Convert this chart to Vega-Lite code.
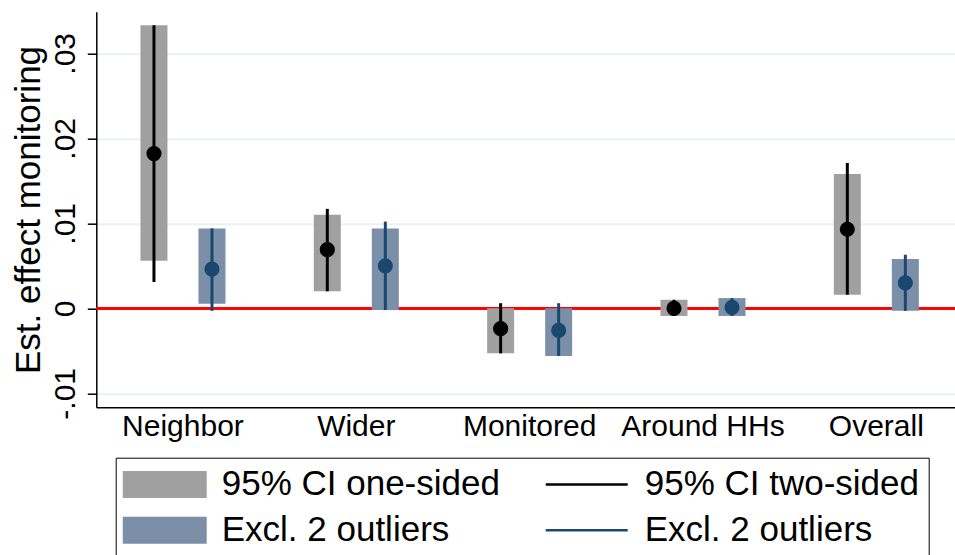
{
  "$schema": "https://vega.github.io/schema/vega-lite/v6.json",
  "width": 858.7,
  "height": 395.6,
  "autosize": {"type": "none"},
  "padding": {"left": 96.3, "top": 11.7, "right": 0, "bottom": 147.7},
  "background": "white",
  "config": {
    "view": {"stroke": null},
    "font": "Liberation Sans",
    "axis": {"labelFont": "Liberation Sans", "titleFont": "Liberation Sans", "labelColor": "black", "titleColor": "black", "titleFontWeight": "normal"}
  },
  "data": {
    "values": [
      {"cat": "Neighbor", "grp": "a", "est": 0.0182, "lo1": 0.0056, "hi1": 0.0333, "lo2": 0.0031, "hi2": 0.0333, "barKey": "a1", "lineKey": "a2"},
      {"cat": "Neighbor", "grp": "b", "est": 0.0046, "lo1": 0.00054, "hi1": 0.0094, "lo2": -0.0003, "hi2": 0.0094, "barKey": "b1", "lineKey": "b2"},
      {"cat": "Wider", "grp": "a", "est": 0.0069, "lo1": 0.0020, "hi1": 0.0110, "lo2": 0.0020, "hi2": 0.0117, "barKey": "a1", "lineKey": "a2"},
      {"cat": "Wider", "grp": "b", "est": 0.0050, "lo1": -0.0002, "hi1": 0.0094, "lo2": -0.0002, "hi2": 0.0102, "barKey": "b1", "lineKey": "b2"},
      {"cat": "Monitored", "grp": "a", "est": -0.0024, "lo1": -0.0053, "hi1": 0.0000, "lo2": -0.0053, "hi2": 0.0006, "barKey": "a1", "lineKey": "a2"},
      {"cat": "Monitored", "grp": "b", "est": -0.0026, "lo1": -0.0056, "hi1": 0.0000, "lo2": -0.0056, "hi2": 0.0006, "barKey": "b1", "lineKey": "b2"},
      {"cat": "Around HHs", "grp": "a", "est": 0.0000, "lo1": -0.0009, "hi1": 0.0010, "lo2": -0.0009, "hi2": 0.0010, "barKey": "a1", "lineKey": "a2"},
      {"cat": "Around HHs", "grp": "b", "est": 0.0001, "lo1": -0.0009, "hi1": 0.0012, "lo2": -0.0009, "hi2": 0.0012, "barKey": "b1", "lineKey": "b2"},
      {"cat": "Overall", "grp": "a", "est": 0.0093, "lo1": 0.0016, "hi1": 0.0158, "lo2": 0.0016, "hi2": 0.0171, "barKey": "a1", "lineKey": "a2"},
      {"cat": "Overall", "grp": "b", "est": 0.0030, "lo1": -0.0003, "hi1": 0.0058, "lo2": -0.0003, "hi2": 0.0063, "barKey": "b1", "lineKey": "b2"}
    ]
  },
  "encoding": {
    "x": {
      "field": "cat", "type": "nominal", "sort": null,
      "scale": {"range": [0, 866.7], "paddingInner": 0, "paddingOuter": 0},
      "axis": {"title": null, "ticks": false, "grid": false, "domain": true, "domainColor": "black", "domainWidth": 1.5, "labelAngle": 0, "labelFontSize": 30, "labelPadding": 4}
    },
    "xOffset": {"field": "grp", "type": "nominal", "scale": {"paddingInner": 0, "paddingOuter": 0.494}}
  },
  "layer": [
    {
      "mark": {"type": "rule", "color": "#ff0000", "strokeWidth": 2},
      "encoding": {"y": {"datum": 0, "type": "quantitative"}, "x": null, "xOffset": null}
    },
    {
      "mark": {"type": "bar", "width": 27, "opacity": 1},
      "encoding": {
        "y": {
          "field": "lo1", "type": "quantitative",
          "scale": {"domain": [-0.011647, 0.034894], "nice": false, "zero": false},
          "axis": {
            "title": "Est. effect monitoring", "titleFontSize": 35, "titlePadding": 4,
            "values": [-0.01, 0, 0.01, 0.02, 0.03],
            "labelExpr": "datum.value == 0 ? '0' : (datum.value < 0 ? '-' : '') + replace(format(abs(datum.value), '.2f'), '0.', '.')",
            "labelAngle": 270, "labelAlign": "center", "labelBaseline": "alphabetic", "labelFontSize": 30, "labelPadding": 13,
            "tickSize": 9, "tickColor": "black", "tickWidth": 1.5,
            "domainColor": "black", "domainWidth": 1.5,
            "grid": true, "gridColor": "#eaf0f3", "gridWidth": 2
          }
        },
        "y2": {"field": "hi1"},
        "color": {
          "field": "barKey", "type": "nominal",
          "scale": {"domain": ["a1", "a2", "b1", "b2"], "range": ["#a0a0a0", "#000000", "#7b90a8", "#1a476f"]},
          "legend": {
            "title": null, "orient": "none", "legendX": 19.4, "legendY": 446,
            "columns": 2, "direction": "horizontal",
            "strokeColor": "black", "fillColor": "white", "padding": 9,
            "columnPadding": 45, "rowPadding": 10,
            "symbolSize": 729, "labelOffset": 62,
            "symbolType": {"expr": "datum.value == 'a1' || datum.value == 'b1' ? 'M-1.44,-1H4.78V1H-1.44Z' : 'M-1.44,-0.09H4.63V0.09H-1.44Z'"},
            "symbolOpacity": 1, "symbolStrokeWidth": 0,
            "labelFontSize": 35, "labelFont": "Liberation Sans", "labelColor": "black", "labelLimit": 400,
            "labelExpr": "datum.value == 'a1' ? '95% CI one-sided' : datum.value == 'a2' ? '95% CI two-sided' : 'Excl. 2 outliers'"
          }
        }
      }
    },
    {
      "mark": {"type": "rule", "strokeWidth": 3},
      "encoding": {
        "y": {"field": "lo2", "type": "quantitative"},
        "y2": {"field": "hi2"},
        "stroke": {"field": "lineKey", "type": "nominal", "scale": {"domain": ["a2", "b2"], "range": ["#000000", "#1a476f"]}, "legend": null}
      }
    },
    {
      "mark": {"type": "point", "shape": "circle", "filled": true, "size": 230, "opacity": 1, "strokeWidth": 0},
      "encoding": {
        "y": {"field": "est", "type": "quantitative"},
        "fill": {"field": "lineKey", "type": "nominal", "scale": {"domain": ["a2", "b2"], "range": ["#000000", "#1a476f"]}, "legend": null}
      }
    }
  ]
}
